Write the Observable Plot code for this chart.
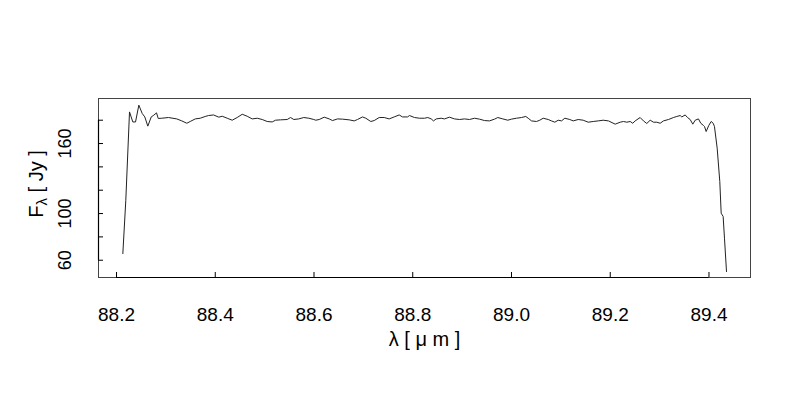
<!DOCTYPE html>
<html><head><meta charset="utf-8">
<script src="https://cdn.jsdelivr.net/npm/d3@7"></script>
<script src="https://cdn.jsdelivr.net/npm/@observablehq/plot@0.6"></script>
<style>body{margin:0;background:#fff} svg{display:block}</style>
</head><body><div id="chart"></div>
<script>
const wavelength = [
  88.2128, 88.2188, 88.2263, 88.2330, 88.2385, 88.2452, 88.2521, 88.2573, 88.2634, 88.2703,
  88.2755, 88.2810, 88.2845, 88.2917, 88.3053, 88.3221, 88.3322, 88.3424, 88.3493, 88.3594,
  88.3695, 88.3796, 88.3863, 88.3965, 88.4072, 88.4141, 88.4242, 88.4343, 88.4444, 88.4546,
  88.4647, 88.4748, 88.4850, 88.4951, 88.5052, 88.5153, 88.5220, 88.5321, 88.5457, 88.5524,
  88.5591, 88.5692, 88.5793, 88.5895, 88.5996, 88.6036, 88.6105, 88.6207, 88.6308, 88.6375,
  88.6476, 88.6577, 88.6713, 88.6814, 88.6881, 88.6982, 88.7049, 88.7150, 88.7219, 88.7320,
  88.7422, 88.7523, 88.7624, 88.7725, 88.7792, 88.7894, 88.7934, 88.8035, 88.8137, 88.8238,
  88.8305, 88.8374, 88.8420, 88.8475, 88.8576, 88.8643, 88.8744, 88.8846, 88.8947, 88.9048,
  88.9149, 88.9251, 88.9352, 88.9453, 88.9554, 88.9656, 88.9722, 88.9824, 88.9925, 89.0000,
  89.0101, 89.0203, 89.0290, 89.0338, 89.0405, 89.0506, 89.0573, 89.0642, 89.0744, 89.0810,
  89.0877, 89.0946, 89.1013, 89.1080, 89.1181, 89.1250, 89.1351, 89.1452, 89.1554, 89.1655,
  89.1756, 89.1857, 89.1964, 89.2100, 89.2201, 89.2268, 89.2335, 89.2404, 89.2456, 89.2505,
  89.2606, 89.2673, 89.2740, 89.2809, 89.2876, 89.2943, 89.3012, 89.3078, 89.3180, 89.3281,
  89.3348, 89.3417, 89.3449, 89.3518, 89.3565, 89.3619, 89.3672, 89.3721, 89.3787, 89.3834,
  89.3889, 89.3909, 89.3943, 89.3996, 89.4045, 89.4085, 89.4111, 89.4166, 89.4219, 89.4247,
  89.4287, 89.4314, 89.4355
];
const flux = [
  65.7, 111.4, 187.1, 178.5, 178.5, 192.9, 185.7, 182.8, 174.9, 182.8,
  184.3, 186.3, 181.5, 181.7, 182.3, 181.1, 179.4, 177.4, 178.9, 181.1,
  181.7, 183.2, 184.0, 184.5, 182.6, 183.4, 181.7, 180.0, 182.3, 185.1,
  183.4, 181.1, 181.7, 180.6, 178.9, 178.5, 180.0, 180.3, 180.6, 182.3,
  180.6, 181.1, 182.3, 181.7, 180.6, 180.0, 180.6, 182.6, 181.1, 179.7,
  181.1, 180.9, 180.3, 179.4, 180.6, 182.8, 181.7, 178.9, 179.7, 182.3,
  182.3, 181.1, 182.8, 184.5, 182.8, 182.8, 184.0, 182.3, 181.7, 181.7,
  182.3, 181.1, 179.4, 181.1, 181.7, 181.1, 182.6, 181.1, 180.6, 181.1,
  180.6, 181.7, 180.9, 179.7, 179.4, 180.9, 182.3, 181.1, 180.0, 180.9,
  181.7, 182.3, 183.2, 181.7, 179.4, 178.9, 180.0, 181.7, 180.6, 179.4,
  178.3, 180.0, 179.4, 181.7, 180.6, 179.4, 180.6, 180.0, 178.3, 178.9,
  179.4, 180.0, 179.4, 176.6, 178.3, 178.9, 178.3, 178.9, 177.4, 179.4,
  182.3, 179.4, 177.2, 180.0, 178.3, 178.3, 177.4, 179.4, 180.6, 182.3,
  183.2, 184.0, 182.8, 184.5, 182.3, 180.6, 176.6, 180.0, 181.1, 177.4,
  175.5, 174.6, 170.3, 175.5, 178.9, 177.4, 174.6, 156.0, 127.5, 100.3,
  97.5, 78.9, 50.3
];
const xTicks = [88.2, 88.4, 88.6, 88.8, 89.0, 89.2, 89.4];
const yTicks = [60, 80, 100, 120, 140, 160, 180];
const yLabelTicks = [60, 100, 160];
const xDomain = [88.1635, 89.4841];
const yDomain = [45.2, 198.6];
const xTitle = "λ [ μ m ]";
const yTitle = "Fλ [ Jy ]";

const data = wavelength.map((w, i) => ({w, f: flux[i]}));

const chart = Plot.plot({
  width: 800, height: 400,
  marginTop: 98, marginRight: 50, marginBottom: 123, marginLeft: 98,
  style: {fontFamily: "'Liberation Sans', Arial, sans-serif", fontSize: "18px", background: "#fff", color: "#000"},
  x: {domain: xDomain},
  y: {domain: yDomain},
  marks: [
    Plot.frame({stroke: "#444", strokeWidth: 1}),
    Plot.line(data, {x: "w", y: "f", stroke: "#222", strokeWidth: 1}),
    Plot.ruleY([yDomain[0]], {x1: xTicks[0], x2: xTicks[xTicks.length - 1], stroke: "#000", strokeWidth: 1.2}),
    Plot.ruleX([xDomain[0]], {y1: yTicks[0], y2: yTicks[yTicks.length - 1], stroke: "#000", strokeWidth: 1.2}),
    Plot.axisX(xTicks, {tickSize: -5, tickFormat: () => "", label: null}),
    Plot.axisX(xTicks, {tickSize: 0, tickPadding: 30, tickFormat: d => d.toFixed(1), label: null, fontSize: 19}),
    Plot.axisY(yTicks, {tickSize: -5, tickFormat: () => "", label: null}),
    Plot.axisY(yLabelTicks, {tickSize: 0, tickPadding: 28, tickRotate: -90, label: null, fontSize: 18}),
    Plot.text([xTitle], {frameAnchor: "bottom", dy: 62, fontSize: 20, lineAnchor: "middle", textAnchor: "middle"}),
    Plot.text([yTitle], {frameAnchor: "left", dx: -62, dy: -4, rotate: -90, fontSize: 20, lineAnchor: "middle", textAnchor: "middle"})
  ]
});
document.getElementById("chart").appendChild(chart);

// subscript lambda in the y title
chart.querySelectorAll("text").forEach(t => {
  if (t.textContent === yTitle) {
    t.textContent = "";
    const ns = "http://www.w3.org/2000/svg";
    const a = document.createElementNS(ns, "tspan"); a.textContent = "F";
    const b = document.createElementNS(ns, "tspan"); b.textContent = "λ";
    b.setAttribute("font-size", "15"); b.setAttribute("dy", "4");
    const c = document.createElementNS(ns, "tspan"); c.textContent = " [ Jy ]";
    c.setAttribute("dy", "-4");
    t.append(a, b, c);
  }
});
</script>
</body></html>
